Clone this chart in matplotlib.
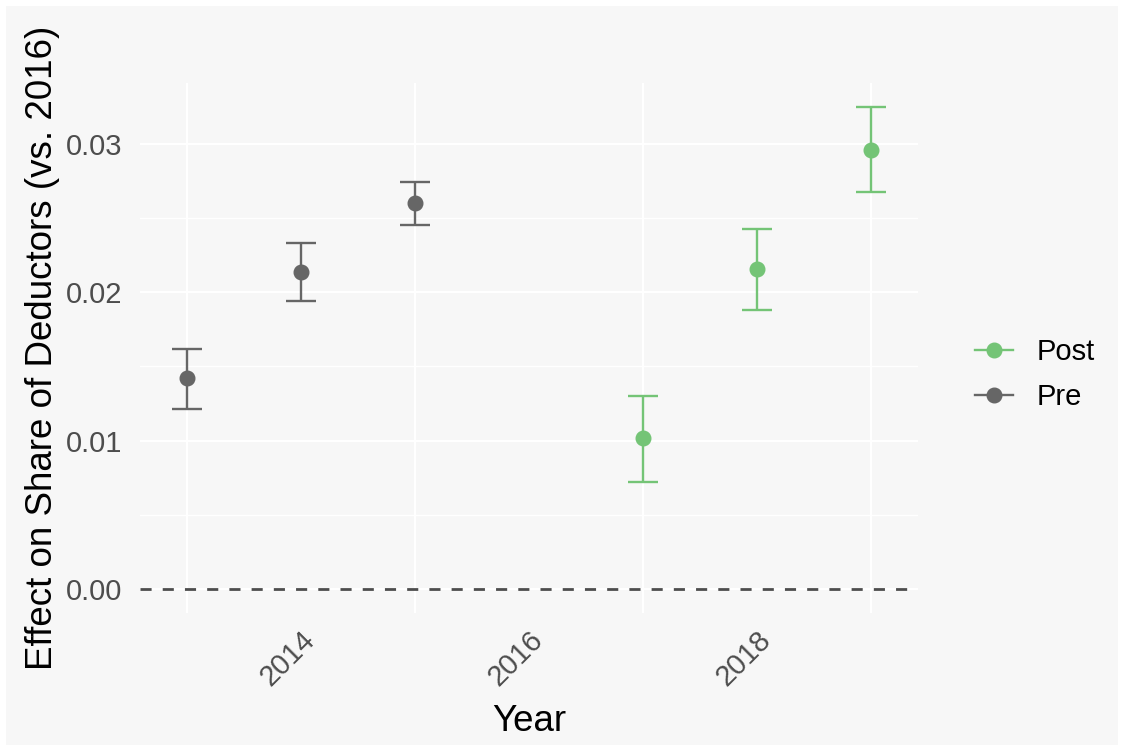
import matplotlib
matplotlib.use("Agg")
import matplotlib.pyplot as plt
from matplotlib.patches import FancyBboxPatch

plt.rcParams['font.family'] = ['Liberation Sans', 'DejaVu Sans']

# event-study estimates
pre_years = [2013, 2014, 2015]
pre_est = [0.01419, 0.02139, 0.02603]
pre_lo = [0.0121, 0.01944, 0.02455]
pre_hi = [0.0162, 0.02334, 0.02744]

post_years = [2017, 2018, 2019]
post_est = [0.01015, 0.02159, 0.02959]
post_lo = [0.0072, 0.01883, 0.02677]
post_hi = [0.01298, 0.02428, 0.03248]

x_tick_years = [2014, 2016, 2018]
y_ticks = [0.00, 0.01, 0.02, 0.03]
y_tick_labels = ["0.00", "0.01", "0.02", "0.03"]

pre_col = "#666666"
post_col = "#74c476"
bg = "#f7f7f7"

W, H = 1124, 751
fig = plt.figure(figsize=(W / 100, H / 100), dpi=100)
fig.patch.set_facecolor("white")
# grey plot background with a thin white border
fig.patches.append(FancyBboxPatch((6 / W, 6 / H), 1112 / W, 739 / H,
                                  boxstyle="square,pad=0", transform=fig.transFigure,
                                  facecolor=bg, edgecolor="none", zorder=-10))

ax = fig.add_axes([140 / W, (H - 613) / H, (918 - 140) / W, (613 - 83) / H])
ax.set_facecolor(bg)
for s in ax.spines.values():
    s.set_visible(False)

def draw(years, est, lo, hi, col, lab):
    yerr = [[e - l for e, l in zip(est, lo)], [h - e for e, h in zip(est, hi)]]
    ax.errorbar(years, est, yerr=yerr, fmt="o", color=col, ms=10.5, elinewidth=1.7,
                capsize=11, capthick=1.7, zorder=3)
    # legend proxy, ggplot style (point + line)
    ax.plot([], [], "-o", color=col, ms=10.5, lw=1.7, label=lab)

draw(post_years, post_est, post_lo, post_hi, post_col, "Post")
draw(pre_years, pre_est, pre_lo, pre_hi, pre_col, "Pre")

ax.axhline(0, color="#4d4d4d", lw=2.0, dashes=(4, 4), zorder=2)

ax.set_xlim(2012.59, 2019.41)
ax.set_ylim(-0.001624, 0.034104)

ax.set_xticks(x_tick_years)
ax.set_xticks([2013, 2015, 2017, 2019], minor=True)
ax.set_yticks(y_ticks)
ax.set_yticklabels(y_tick_labels)
ax.set_yticks([0.005, 0.015, 0.025], minor=True)

ax.grid(False)
ax.grid(True, axis="x", which="minor", color="white", lw=1.5, zorder=0)
ax.grid(True, axis="y", which="major", color="white", lw=1.6, zorder=0)
ax.grid(True, axis="y", which="minor", color="white", lw=0.9, zorder=0)

ax.tick_params(axis="both", which="both", length=0, labelsize=21, labelcolor="#4d4d4d")
ax.tick_params(axis="y", pad=13)
ax.tick_params(axis="x", pad=9)
for t in ax.get_xticklabels():
    t.set_rotation(45)
    t.set_rotation_mode("anchor")
    t.set_ha("right")
    t.set_va("top")

ax.set_xlabel("Year", fontsize=26.5, color="black", labelpad=9)
ax.set_ylabel("Effect on Share of Deductors (vs. 2016)", fontsize=26.5, color="black", labelpad=4)

leg = ax.legend(loc="center left", bbox_to_anchor=(1.04, 0.45), frameon=False, fontsize=21,
                handlelength=1.3, handletextpad=0.8, labelspacing=0.57)

fig.savefig("out.png", dpi=100, facecolor="white")
